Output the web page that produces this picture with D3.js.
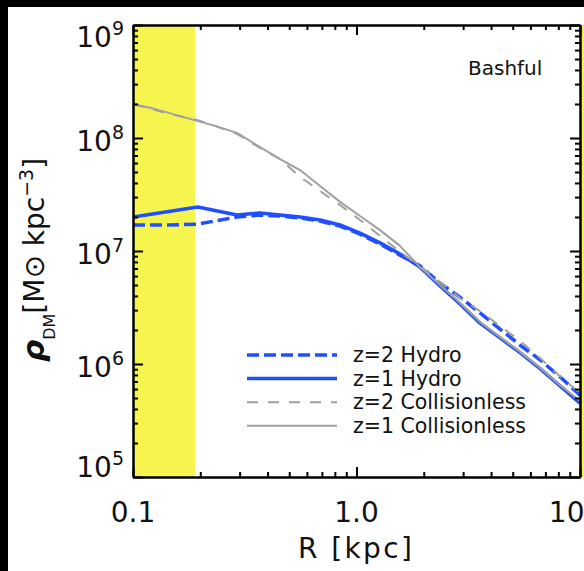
<!DOCTYPE html>
<html>
<head>
<meta charset="utf-8">
<script src="https://cdn.jsdelivr.net/npm/d3@7"></script>
<style>
  html, body { margin: 0; padding: 0; background: #000; }
  svg { display: block; }
  text { font-family: "DejaVu Sans", "Liberation Sans", sans-serif; fill: #111; }
</style>
</head>
<body>
<svg id="chart" width="584" height="571"></svg>
<script>
// Radial bins (kpc)
const radius = [0.100, 0.120, 0.146, 0.195, 0.233, 0.292, 0.370, 0.455, 0.559, 0.687, 0.844,
                1.037, 1.274, 1.565, 1.923, 2.364, 2.905, 3.569, 4.386, 5.389, 6.622, 8.137, 10.0];

// Dark-matter density profiles (Msun kpc^-3); null = no sample in that bin
const z2Hydro = [1.70e7, null, 1.70e7, 1.73e7, null, 2.00e7, 2.08e7, 2.04e7, 1.96e7, 1.84e7, 1.66e7,
                 1.41e7, 1.15e7, 9.2e6, 7.4e6, 5.2e6, 3.9e6, 2.83e6, 2.04e6, 1.47e6, 1.09e6, 7.7e5, 5.3e5];
const z1Hydro = [2.00e7, null, null, 2.45e7, null, 2.08e7, 2.17e7, 2.08e7, 2.00e7, 1.88e7, 1.70e7,
                 1.44e7, 1.18e7, 9.4e6, 7.2e6, 4.9e6, 3.4e6, 2.3e6, 1.7e6, 1.26e6, 9.1e5, 6.4e5, 4.5e5];
const z2Coll  = [2.00e8, 1.81e8, 1.63e8, 1.44e8, 1.28e8, 1.085e8, 8.16e7, 6.52e7, 4.52e7, 3.40e7, 2.55e7,
                 1.88e7, 1.36e7, 9.8e6, 7.37e6, 5.32e6, 3.84e6, 2.94e6, 2.17e6, 1.60e6, 1.13e6, 7.8e5, 5.5e5];
const z1Coll  = [2.00e8, 1.84e8, 1.66e8, 1.41e8, 1.28e8, 1.11e8, 8.3e7, 6.5e7, 5.2e7, 3.76e7, 2.72e7,
                 2.04e7, 1.53e7, 1.11e7, 7.2e6, 5.0e6, 3.47e6, 2.35e6, 1.73e6, 1.28e6, 9.2e5, 6.5e5, 4.7e5];

const seriesNames = ["z=2 Hydro", "z=1 Hydro", "z=2 Collisionless", "z=1 Collisionless"];
const haloName = "Bashful";

// Shaded unresolved region (kpc)
const shadedRange = [0.1, 0.19];

// Axis ticks
const xMajor = [0.1, 1, 10];
const xTickLabels = ["0.1", "1.0", "10.0"];
const xMinor = [0.2, 0.3, 0.4, 0.5, 0.6, 0.7, 0.8, 0.9, 2, 3, 4, 5, 6, 7, 8, 9];
const yExponents = [5, 6, 7, 8, 9];
const yMinor = [];
for (let e = 5; e < 9; e++) for (let m = 2; m <= 9; m++) yMinor.push(m * Math.pow(10, e));

(function draw() {
  const svg = d3.select("#chart");
  const W = 584, H = 571;
  const pL = 133, pR = 580, pT = 25, pB = 477;

  const x = d3.scaleLog().domain([0.1, 10]).range([pL, pR]);
  const y = d3.scaleLog().domain([1e5, 1e9]).range([pB, pT]);

  // page background (dark frame at top/left edges)
  svg.append("rect").attr("x", 8).attr("y", 7).attr("width", W - 8).attr("height", H - 7).attr("fill", "#fff");

  // shaded region
  svg.append("rect")
    .attr("x", x(shadedRange[0])).attr("y", pT)
    .attr("width", x(shadedRange[1]) - x(shadedRange[0]))
    .attr("height", pB - pT)
    .attr("fill", "#f6f550");
  // neighbouring panel's shading peeking in at the right edge
  svg.append("rect")
    .attr("x", pR + 1).attr("y", pT).attr("width", W - pR - 1).attr("height", pB - pT)
    .attr("fill", "#f6f550");

  svg.append("clipPath").attr("id", "plotClip")
    .append("rect").attr("x", pL).attr("y", pT).attr("width", pR - pL).attr("height", pB - pT);

  const styles = [
    { data: z2Hydro, color: "#1f4fff", width: 3.5, dash: "12,5" },
    { data: z1Hydro, color: "#1f4fff", width: 3.5, dash: null },
    { data: z2Coll,  color: "#a0a0a0", width: 2,   dash: "11,10" },
    { data: z1Coll,  color: "#a0a0a0", width: 2,   dash: null }
  ];

  const line = d3.line().x(d => x(d[0])).y(d => y(d[1]));
  const gLines = svg.append("g").attr("clip-path", "url(#plotClip)");
  styles.forEach(s => {
    const pts = radius.map((r, i) => [r, s.data[i]]).filter(d => d[1] != null);
    gLines.append("path")
      .attr("d", line(pts))
      .attr("fill", "none")
      .attr("stroke", s.color)
      .attr("stroke-width", s.width)
      .attr("stroke-dasharray", s.dash)
      .attr("stroke-linejoin", "round");
  });

  // axes: ticks point inward on all four sides
  function styleAxis(g) {
    g.selectAll("path.domain").attr("stroke", "#000").attr("stroke-width", 2);
    g.selectAll(".tick line").attr("stroke", "#000").attr("stroke-width", 2);
    g.selectAll(".tick text").remove();
  }
  const yMajorVals = yExponents.map(e => Math.pow(10, e));
  const axes = [
    [d3.axisBottom(x).tickValues(xMajor).tickSize(-10), `translate(0,${pB})`],
    [d3.axisBottom(x).tickValues(xMinor).tickSize(-5), `translate(0,${pB})`],
    [d3.axisTop(x).tickValues(xMajor).tickSize(-10), `translate(0,${pT})`],
    [d3.axisTop(x).tickValues(xMinor).tickSize(-5), `translate(0,${pT})`],
    [d3.axisLeft(y).tickValues(yMajorVals).tickSize(-10), `translate(${pL},0)`],
    [d3.axisLeft(y).tickValues(yMinor).tickSize(-5), `translate(${pL},0)`],
    [d3.axisRight(y).tickValues(yMajorVals).tickSize(-10), `translate(${pR},0)`],
    [d3.axisRight(y).tickValues(yMinor).tickSize(-5), `translate(${pR},0)`]
  ];
  axes.forEach(([ax, tr]) => {
    svg.append("g").attr("transform", tr).call(ax.tickSizeOuter(0).tickFormat("")).call(styleAxis);
  });

  // x tick labels
  svg.append("g").selectAll("text").data(xMajor).join("text")
    .attr("x", d => x(d)).attr("y", 522)
    .attr("text-anchor", "middle")
    .attr("font-size", 28)
    .text((d, i) => xTickLabels[i]);

  // y tick labels 10^n
  const yl = svg.append("g").selectAll("text").data(yExponents).join("text")
    .attr("x", 124)
    .attr("y", d => Math.max(47, Math.min(477, y(Math.pow(10, d)) + 13)))
    .attr("text-anchor", "end")
    .attr("font-size", 28);
  yl.append("tspan").text("10");
  yl.append("tspan").attr("font-size", 19).attr("dy", -12).text(d => d);

  // axis titles
  svg.append("text")
    .attr("x", 355).attr("y", 558)
    .attr("text-anchor", "middle")
    .attr("font-size", 28)
    .attr("textLength", 114)
    .text("R [kpc]");

  const yt = svg.append("text")
    .attr("transform", "translate(44,362) rotate(-90)")
    .attr("text-anchor", "start")
    .attr("font-size", 28);
  yt.append("tspan").attr("font-size", 31).attr("font-weight", "bold").attr("font-style", "italic").text("ρ");
  yt.append("tspan").attr("font-size", 16).attr("dy", 11).text("DM");
  yt.append("tspan").attr("dy", -11).text("[M⊙ kpc");
  yt.append("tspan").attr("font-size", 19).attr("dy", -11).text("−3");
  yt.append("tspan").attr("dy", 11).text("]");

  // halo name
  svg.append("text").attr("x", 468).attr("y", 75).attr("font-size", 20).text(haloName);

  // legend
  const legend = svg.append("g").selectAll("g").data(seriesNames).join("g")
    .attr("transform", (d, i) => `translate(0,${355 + i * 23.6})`);
  legend.append("line")
    .attr("x1", 247).attr("x2", 337).attr("y1", 0).attr("y2", 0)
    .attr("stroke", (d, i) => styles[i].color)
    .attr("stroke-width", (d, i) => styles[i].width)
    .attr("stroke-dasharray", (d, i) => styles[i].dash);
  legend.append("text")
    .attr("x", 353).attr("y", 7)
    .attr("font-size", 20.5)
    .text(d => d);
})();
</script>
</body>
</html>
